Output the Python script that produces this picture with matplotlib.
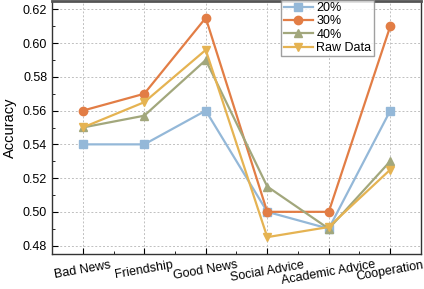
import numpy as np
import matplotlib
import matplotlib.pyplot as plt
from matplotlib.ticker import MultipleLocator
matplotlib.use('Agg')

categories = ['Bad News', 'Friendship', 'Good News', 'Social Advice', 'Academic Advice', 'Cooperation']
acc_20 = [0.54, 0.54, 0.56, 0.50, 0.49, 0.56]
acc_30 = [0.56, 0.57, 0.615, 0.50, 0.50, 0.61]
acc_40 = [0.55, 0.557, 0.59, 0.515, 0.49, 0.53]
acc_raw = [0.55, 0.565, 0.596, 0.485, 0.491, 0.525]

series = [
    ('20%', acc_20, '#94b8d8', 's'),
    ('30%', acc_30, '#e27d45', 'o'),
    ('40%', acc_40, '#a2a77c', '^'),
    ('Raw Data', acc_raw, '#e5b352', 'v'),
]

plt.rcParams['font.family'] = 'Liberation Sans'
fig = plt.figure(figsize=(4.24, 2.89), dpi=100)
ax = fig.add_axes([52 / 424, 35 / 289, 369 / 424, 253 / 289])

x = np.arange(len(categories))
for name, vals, color, marker in series:
    ax.plot(x, vals, color=color, marker=marker, markersize=6, linewidth=1.6, label=name)

ax.set_xlim(-0.5, 5.5)
ax.set_ylim(0.475, 0.625)
ax.set_xticks(x)
ax.set_xticklabels(categories, rotation=10, fontsize=9)
ax.xaxis.set_minor_locator(MultipleLocator(0.5))
ax.yaxis.set_major_locator(MultipleLocator(0.02))
ax.yaxis.set_minor_locator(MultipleLocator(0.01))
ax.tick_params(direction='in', which='both', labelsize=9)
ax.tick_params(which='major', length=4)
ax.tick_params(which='minor', length=2.5)
ax.set_ylabel('Accuracy', fontsize=10.5)
ax.grid(True, linestyle=(0, (2, 2)), color='#c0c0c0', linewidth=0.7)
for s in ax.spines.values():
    s.set_color('#333333')
    s.set_linewidth(1.0)
ax.spines['top'].set_linewidth(2.0)
ax.spines['top'].set_color('#555555')

leg = ax.legend(loc='upper left', bbox_to_anchor=(0.615, 1.015), fontsize=9,
                frameon=True, fancybox=False, edgecolor='#888888',
                handlelength=2.3, borderpad=0.2, labelspacing=0.1, handletextpad=0.3,
                borderaxespad=0.2)

plt.savefig('out.png', dpi=100)
